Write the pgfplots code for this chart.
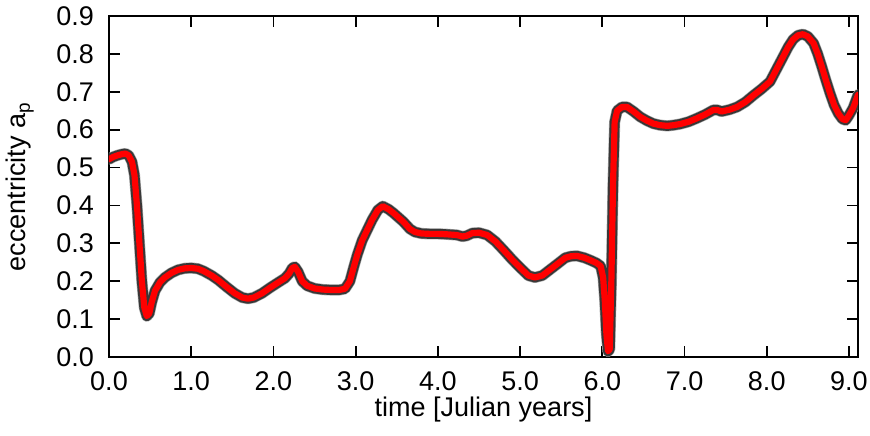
\documentclass[border=0pt]{standalone}
\usepackage{pgfplots}
\pgfplotsset{compat=1.18}
\usepackage{fontspec}
\setmainfont{Liberation Sans}
\definecolor{edge}{RGB}{56,56,56}

\pgfplotstableread{
t y
0.00 0.522
0.05 0.528
0.10 0.532
0.15 0.535
0.20 0.537
0.24 0.532
0.28 0.515
0.31 0.480
0.34 0.400
0.37 0.300
0.40 0.200
0.43 0.130
0.46 0.108
0.49 0.115
0.52 0.145
0.56 0.175
0.62 0.197
0.68 0.210
0.76 0.222
0.84 0.230
0.92 0.234
1.00 0.235
1.08 0.233
1.15 0.227
1.25 0.215
1.33 0.203
1.43 0.185
1.53 0.168
1.62 0.157
1.69 0.154
1.76 0.157
1.86 0.168
1.96 0.183
2.06 0.197
2.14 0.208
2.19 0.220
2.23 0.235
2.26 0.238
2.30 0.225
2.35 0.200
2.41 0.188
2.50 0.181
2.60 0.178
2.70 0.177
2.80 0.177
2.87 0.180
2.93 0.200
2.98 0.240
3.02 0.270
3.08 0.308
3.14 0.335
3.20 0.362
3.27 0.388
3.33 0.398
3.40 0.390
3.46 0.380
3.58 0.357
3.66 0.338
3.72 0.330
3.80 0.326
3.90 0.325
4.00 0.325
4.10 0.324
4.23 0.322
4.30 0.318
4.35 0.320
4.42 0.327
4.50 0.328
4.60 0.322
4.70 0.305
4.80 0.282
4.90 0.258
5.00 0.236
5.10 0.215
5.18 0.210
5.27 0.215
5.36 0.230
5.45 0.245
5.55 0.262
5.62 0.266
5.69 0.267
5.78 0.262
5.86 0.255
5.93 0.248
5.98 0.240
6.01 0.210
6.03 0.150
6.05 0.060
6.07 0.015
6.09 0.020
6.11 0.200
6.13 0.450
6.15 0.620
6.18 0.650
6.24 0.660
6.30 0.660
6.38 0.648
6.46 0.634
6.54 0.624
6.62 0.616
6.70 0.612
6.79 0.610
6.87 0.612
6.95 0.615
7.05 0.621
7.15 0.630
7.25 0.640
7.35 0.652
7.40 0.652
7.45 0.648
7.55 0.653
7.64 0.660
7.74 0.673
7.84 0.691
7.94 0.708
8.04 0.727
8.12 0.760
8.20 0.793
8.26 0.818
8.32 0.838
8.38 0.849
8.44 0.852
8.50 0.846
8.57 0.828
8.62 0.800
8.67 0.766
8.72 0.730
8.77 0.696
8.82 0.665
8.87 0.643
8.92 0.628
8.96 0.625
9.00 0.638
9.05 0.657
9.11 0.692
}\ecc

\begin{document}
\begin{tikzpicture}
\begin{axis}[
    at={(0,0)}, anchor=south west,
    scale only axis,
    width=374.5pt, height=170.5pt,
    xmin=0, xmax=9.11,
    ymin=0, ymax=0.9,
    xtick={0,1,...,9},
    ytick={0,0.1,...,0.9},
    tick align=inside,
    major tick length=5.5pt,
    minor tick num=0,
    axis line style={line width=0.9pt},
    every tick/.style={line width=0.9pt, black},
    font=\fontsize{13.5}{16}\selectfont,
    /pgf/number format/assume math mode=true,
    xticklabel style={/pgf/number format/.cd, fixed, fixed zerofill, precision=1},
    yticklabel style={/pgf/number format/.cd, fixed, fixed zerofill, precision=1},
    xticklabel shift=4pt,
    yticklabel shift=4pt,
    xlabel={time [Julian years]},
    ylabel={eccentricity a$_\mathrm{p}$},
    every axis x label/.style={at={(axis description cs:0.5,0)}, yshift=-26.5pt, anchor=center},
    every axis y label/.style={at={(axis description cs:0,0.5)}, xshift=-44.5pt, rotate=90, anchor=center},
]
\addplot[gray!70, line width=5.6pt, line join=round, line cap=round] table[x=t, y=y] {\ecc};
\addplot[edge, line width=5pt, line join=round, line cap=round] table[x=t, y=y] {\ecc};
\addplot[red, line width=3.1pt, line join=round, line cap=round] table[x=t, y=y] {\ecc};
\end{axis}
\pgfresetboundingbox
\path (-54.5pt,-39pt) rectangle (380.5pt,178.5pt);
\end{tikzpicture}
\end{document}
